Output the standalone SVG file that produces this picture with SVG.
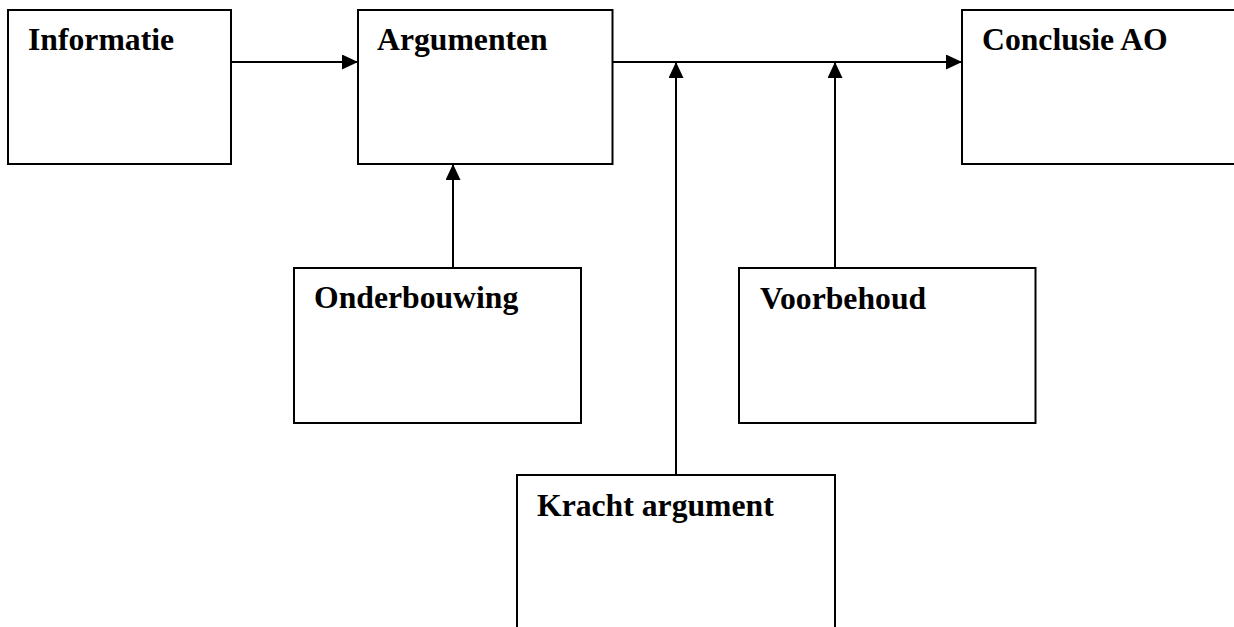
<svg xmlns="http://www.w3.org/2000/svg" width="1234" height="627" viewBox="0 0 1234 627">
<style>
.box{fill:#fff;stroke:#000;stroke-width:2}
.lbl{font-family:"Liberation Serif","Times New Roman",serif;font-weight:bold;font-size:31.7px;fill:#000}
.conn{stroke:#000;stroke-width:2;fill:none}
</style>
<defs>
<marker id="ah" viewBox="0 0 16 15" refX="16" refY="7.5" markerWidth="16" markerHeight="15" markerUnits="userSpaceOnUse" orient="auto">
<path d="M0,0 L16,7.5 L0,15 Z" fill="#000"/>
</marker>
</defs>
<rect width="1234" height="627" fill="#fff"/>
<g id="informatie"><rect class="box" x="8" y="10" width="223" height="154"/><text class="lbl" x="28" y="50">Informatie</text></g>
<g id="argumenten"><rect class="box" x="358" y="10" width="254.5" height="154"/><text class="lbl" x="377" y="50">Argumenten</text></g>
<g id="conclusie"><rect class="box" x="962" y="10" width="290" height="154"/><text class="lbl" x="982" y="50">Conclusie AO</text></g>
<g id="onderbouwing"><rect class="box" x="294" y="268" width="287" height="155"/><text class="lbl" x="314" y="308">Onderbouwing</text></g>
<g id="voorbehoud"><rect class="box" x="739" y="268" width="296.5" height="155"/><text class="lbl" x="760" y="309">Voorbehoud</text></g>
<g id="kracht"><rect class="box" x="517" y="475" width="318" height="170"/><text class="lbl" x="537" y="516">Kracht argument</text></g>
<g id="connectors">
<line class="conn" x1="231" y1="62" x2="358" y2="62" marker-end="url(#ah)"/>
<line class="conn" x1="612.5" y1="62" x2="962" y2="62" marker-end="url(#ah)"/>
<line class="conn" x1="453" y1="268" x2="453" y2="164" marker-end="url(#ah)"/>
<line class="conn" x1="676" y1="475" x2="676" y2="62" marker-end="url(#ah)"/>
<line class="conn" x1="835" y1="268" x2="835" y2="62" marker-end="url(#ah)"/>
</g>
</svg>
